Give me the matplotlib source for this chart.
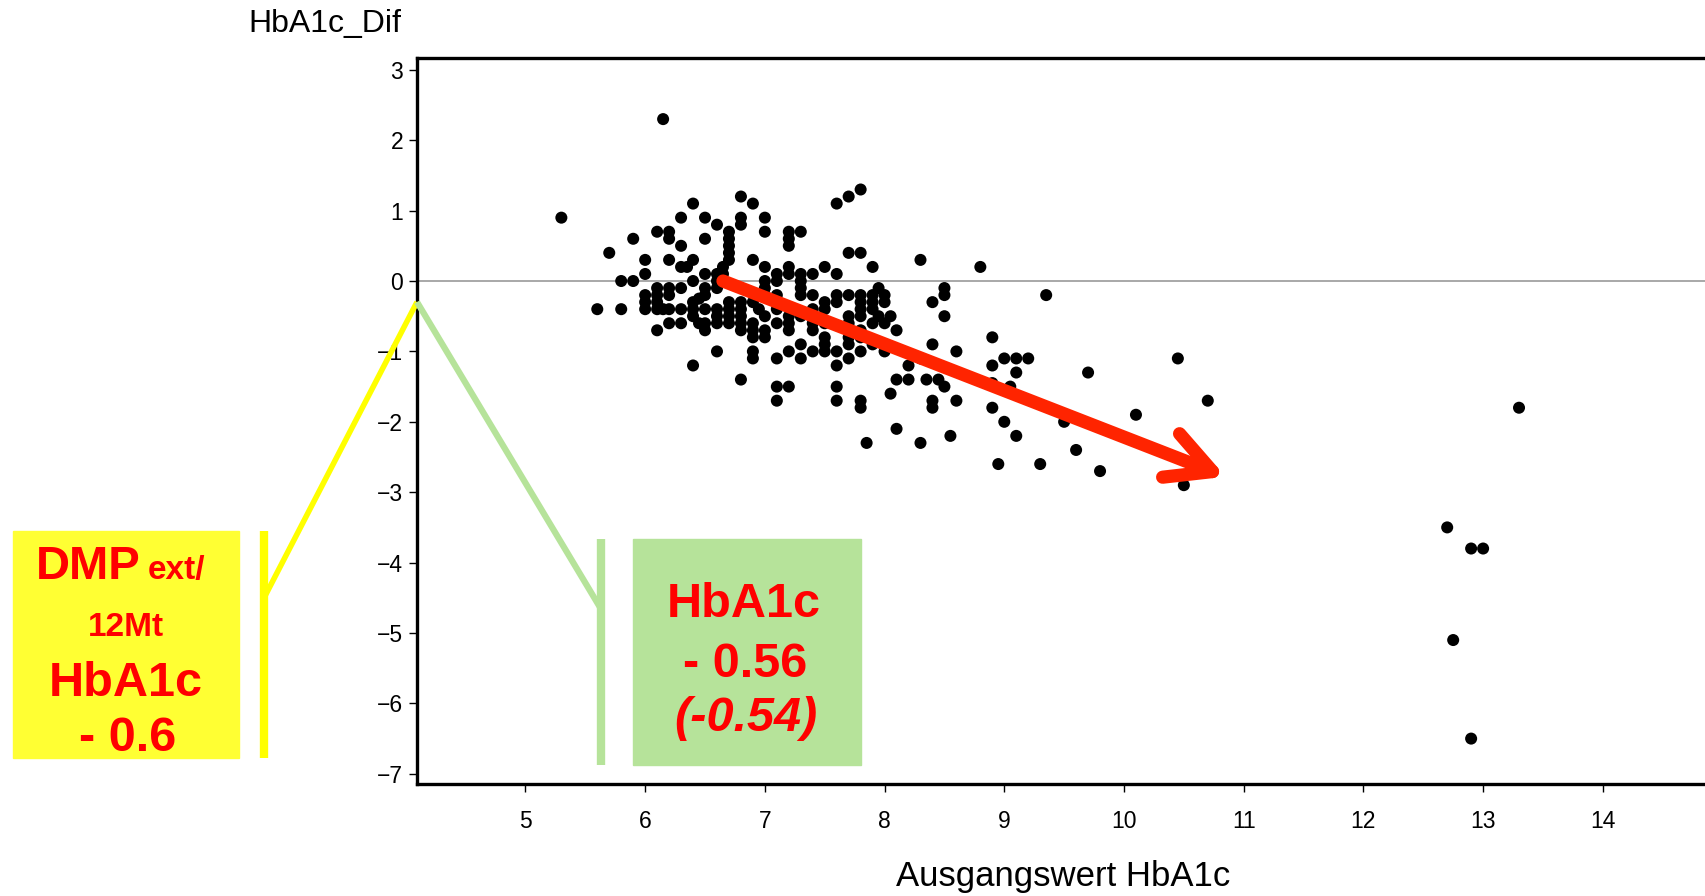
import matplotlib
matplotlib.use('Agg')
import matplotlib.pyplot as plt
from matplotlib.patches import Rectangle, FancyArrowPatch
from matplotlib.lines import Line2D

plt.rcParams['font.family'] = ['Liberation Sans', 'DejaVu Sans']

# (Ausgangswert HbA1c, HbA1c_Dif)
upper_points = [
    (5.3, 0.9), (6.15, 2.3), (5.7, 0.4), (5.6, -0.4), (5.8, -0.4), (5.8, 0.0),
    (5.9, 0.0), (5.9, 0.6), (6.0, 0.3), (6.0, 0.1), (6.1, 0.7), (6.2, 0.7),
    (6.2, 0.6), (6.3, 0.9), (6.4, 1.1), (6.5, 0.9), (6.6, 0.8), (6.3, 0.5),
    (6.5, 0.6), (6.2, 0.3), (6.3, 0.2), (6.35, 0.2), (6.4, 0.3), (6.4, 0.0),
    (6.5, 0.1), (6.6, 0.1), (6.6, 0.0), (6.7, 0.6), (6.7, 0.5), (6.7, 0.4),
    (6.7, 0.3), (6.65, 0.2), (6.8, 1.2), (6.9, 1.1), (6.8, 0.9), (6.8, 0.8),
    (6.7, 0.7), (7.0, 0.9), (7.0, 0.7), (7.2, 0.6), (7.2, 0.5), (7.2, 0.7),
    (7.3, 0.7), (7.6, 1.1), (7.7, 1.2), (7.8, 1.3), (7.7, 0.4), (7.8, 0.4),
    (6.9, 0.3), (7.9, 0.2), (8.3, 0.3), (8.8, 0.2),
]

core_points = [
    (6.1, -0.1), (6.2, -0.1), (6.3, -0.1), (6.5, -0.1), (6.6, -0.1),
    (6.0, -0.2), (6.1, -0.2), (6.2, -0.2), (6.4, -0.3), (6.5, -0.2), (6.45, -0.25),
    (6.0, -0.4), (6.1, -0.4), (6.2, -0.4), (6.3, -0.4), (6.4, -0.4), (6.5, -0.4),
    (6.6, -0.4), (6.4, -0.5), (6.6, -0.5), (6.2, -0.6), (6.3, -0.6), (6.45, -0.6),
    (6.5, -0.6), (6.6, -0.6), (6.7, -0.6), (6.1, -0.7), (6.5, -0.7), (6.6, -1.0),
    (6.4, -1.2), (6.0, -0.3), (6.1, -0.3), (6.15, -0.4), (6.65, 0.1), (7.0, 0.2),
    (7.0, 0.0), (7.0, -0.1), (7.0, -0.2), (7.2, 0.2), (7.1, 0.1), (7.1, 0.0),
    (7.2, 0.1), (7.3, 0.1), (7.4, 0.1), (7.3, 0.0), (7.3, -0.1), (7.3, -0.2),
    (7.5, 0.2), (7.6, 0.1), (7.1, -0.2), (6.7, -0.3), (6.8, -0.3), (6.9, -0.3),
    (6.95, -0.4), (7.6, -0.2), (7.6, -0.3), (7.7, -0.2), (7.8, -0.3), (7.9, -0.4),
    (7.4, -0.4), (7.5, -0.4), (6.7, -0.4), (6.7, -0.5), (6.8, -0.5), (6.8, -0.6),
    (6.9, -0.6), (6.9, -0.7), (6.9, -0.8), (7.0, -0.7), (6.8, -0.7), (6.8, -0.4),
    (7.2, -0.5), (7.2, -0.6), (7.2, -0.7), (7.0, -0.5), (7.7, -0.5), (7.7, -0.6),
    (7.8, -0.7), (7.8, -0.5), (7.5, -0.8), (7.5, -0.9), (7.5, -1.0), (7.6, -1.0),
    (7.6, -1.2), (7.4, -1.0), (7.7, -0.8), (7.8, -1.0), (7.8, -0.8), (7.3, -0.9),
    (7.3, -1.1), (7.2, -1.0), (7.1, -1.1), (6.9, -1.0), (6.9, -1.1), (6.8, -1.4),
    (7.1, -1.5), (7.2, -1.5), (7.1, -1.7), (7.6, -1.5), (7.6, -1.7), (7.8, -1.7),
    (7.8, -1.8), (7.0, -0.8), (7.4, -0.6), (7.5, -0.6), (7.4, -0.7), (7.3, -0.5),
    (7.1, -0.4), (7.1, -0.6), (7.4, -0.2), (7.5, -0.3), (7.9, -0.2), (8.0, -0.2),
    (7.9, -0.3), (8.0, -0.3), (7.8, -0.4), (7.8, -0.2), (7.95, -0.1), (8.0, -0.6),
    (7.9, -0.6), (7.9, -0.9), (8.0, -1.0), (7.7, -1.1), (7.7, -0.9), (7.95, -0.5),
    (8.05, -0.5), (8.1, -0.7),
]

right_points = [
    (9.35, -0.2), (8.5, -0.1), (8.5, -0.2), (8.4, -0.3), (8.5, -0.5), (8.4, -0.9),
    (8.9, -0.8), (8.6, -1.0), (8.3, -1.1), (8.2, -1.2), (8.9, -1.2), (9.0, -1.1),
    (9.1, -1.1), (9.2, -1.1), (9.1, -1.3), (9.7, -1.3), (10.45, -1.1), (10.7, -1.7),
    (8.1, -1.4), (8.2, -1.4), (8.35, -1.4), (8.45, -1.4), (8.5, -1.5), (8.05, -1.6),
    (8.4, -1.7), (8.4, -1.8), (8.6, -1.7), (8.9, -1.45), (8.9, -1.8), (9.05, -1.5),
    (9.0, -2.0), (9.1, -2.2), (9.5, -2.0), (9.6, -2.4), (10.1, -1.9), (9.8, -2.7),
    (9.3, -2.6), (8.95, -2.6), (8.55, -2.2), (8.3, -2.3), (8.1, -2.1), (10.5, -2.9),
    (7.85, -2.3),
]

far_points = [(13.3, -1.8), (12.7, -3.5), (12.9, -3.8), (13.0, -3.8), (12.75, -5.1), (12.9, -6.5)]

x_ticks = [5, 6, 7, 8, 9, 10, 11, 12, 13, 14]
y_ticks = [3, 2, 1, 0, -1, -2, -3, -4, -5, -6, -7]

# trend arrow (start -> end) in data units
arrow_start = (6.65, 0.0)
arrow_end = (10.85, -2.78)

W, H = 1706, 896
def fx(px):
    return px / W
def fy(py):
    return 1 - py / H

fig = plt.figure(figsize=(W / 100, H / 100), dpi=100)
ax = fig.add_axes([fx(417), fy(784), 1 - fx(417), fy(58) - fy(784)])

all_points = upper_points + core_points + right_points + far_points
xs = [p[0] for p in all_points]
ys = [p[1] for p in all_points]

ax.axhline(0, color='#9a9a9a', lw=1.2, zorder=1)
ax.scatter(xs, ys, s=75, color='black', edgecolors='none', zorder=3)

ax.set_xlim(4.094, 14.862)
ax.set_ylim(-7.145, 3.168)
ax.set_xticks(x_ticks)
ax.set_yticks(y_ticks)
ax.tick_params(axis='x', direction='out', length=6, width=1, pad=13, labelsize=16.5)
ax.tick_params(axis='y', direction='out', length=6, width=1, pad=4, labelsize=16.5)
for side in ['left', 'bottom', 'top']:
    ax.spines[side].set_linewidth(2.4)
ax.spines['right'].set_visible(False)

arrow = FancyArrowPatch(arrow_start, arrow_end, arrowstyle='->,head_length=2.0,head_width=1.05',
                        mutation_scale=16, color='#ff2400', lw=9.5, capstyle='round',
                        shrinkA=0, shrinkB=0, zorder=5)
ax.add_patch(arrow)

fig.text(fx(248), fy(24), 'HbA1c_Dif', fontsize=23, ha='left', va='center')
fig.text(fx(1063), fy(876), 'Ausgangswert HbA1c', fontsize=25, ha='center', va='center')

# yellow annotation
yellow = '#ffff33'
fig.add_artist(Rectangle((fx(13), fy(758)), fx(239) - fx(13), fy(531) - fy(758),
                         transform=fig.transFigure, color=yellow, zorder=2))
fig.add_artist(Line2D([fx(264), fx(264)], [fy(531), fy(758)], transform=fig.transFigure,
                      color='#ffff00', lw=6, solid_capstyle='butt'))
fig.add_artist(Line2D([fx(264), fx(417)], [fy(598), fy(302)], transform=fig.transFigure,
                      color='#ffff00', lw=4, solid_capstyle='butt'))

# green annotation
green = '#b6e39a'
fig.add_artist(Rectangle((fx(633), fy(765)), fx(861) - fx(633), fy(539) - fy(765),
                         transform=fig.transFigure, color=green, zorder=2))
fig.add_artist(Line2D([fx(601), fx(601)], [fy(539), fy(765)], transform=fig.transFigure,
                      color=green, lw=6, solid_capstyle='butt'))
fig.add_artist(Line2D([fx(417), fx(601)], [fy(302), fy(609)], transform=fig.transFigure,
                      color=green, lw=4.5, solid_capstyle='butt'))

red = '#ff0000'
txt = dict(color=red, fontweight='bold', va='baseline', zorder=6)
fig.text(fx(141), fy(579), 'DMP', fontsize=34, ha='right', **txt)
fig.text(fx(148), fy(579), 'ext/', fontsize=24, ha='left', **txt)
fig.text(fx(126), fy(636), '12Mt', fontsize=24, ha='center', **txt)
fig.text(fx(126), fy(696), 'HbA1c', fontsize=35, ha='center', **txt)
fig.text(fx(128), fy(751), '- 0.6', fontsize=35, ha='center', **txt)

fig.text(fx(744), fy(617), 'HbA1c', fontsize=35, ha='center', **txt)
fig.text(fx(745), fy(677), '- 0.56', fontsize=35, ha='center', **txt)
fig.text(fx(746), fy(731), '(-0.54)', fontsize=35, ha='center', style='italic', **txt)

fig.savefig('out.png', dpi=100)
